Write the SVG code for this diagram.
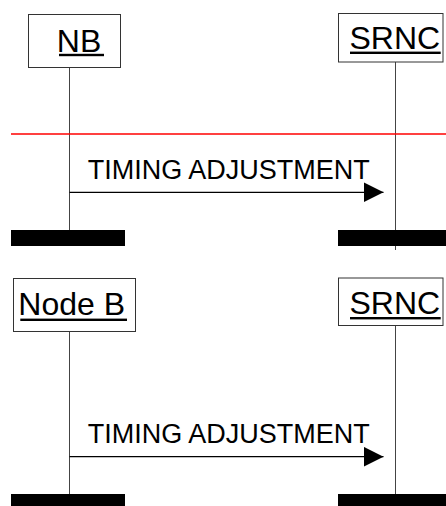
<svg xmlns="http://www.w3.org/2000/svg" width="446" height="506" viewBox="0 0 446 506">
<style>
.box{fill:#fff;stroke:#333;stroke-width:1}
.life{stroke:#444;stroke-width:1;fill:none}
.name{font-family:"Liberation Sans",Arial,sans-serif;font-size:32px;fill:#000}
.ul{fill:#000}
.msg{font-family:"Liberation Sans",Arial,sans-serif;font-size:27px;fill:#000}
.msgline{stroke:#000;stroke-width:1.3;fill:none}
.bar{fill:#000}
</style>
<defs>
<marker id="arr" markerUnits="userSpaceOnUse" markerWidth="22" markerHeight="22" refX="20" refY="10" orient="auto">
<path d="M0,0 L20,10 L0,20 Z" fill="#000"/>
</marker>
</defs>
<rect width="446" height="506" fill="#fff"/>
<g id="connectors">
<line class="life" x1="69.5" y1="67.5" x2="69.5" y2="230"/>
<line class="life" x1="395.5" y1="62" x2="395.5" y2="250"/>
<line x1="11" y1="134" x2="446" y2="134" stroke="#f00" stroke-width="1.4"/>
<line class="msgline" x1="69.5" y1="192.3" x2="383.5" y2="192.3" marker-end="url(#arr)"/>
<line class="life" x1="69.5" y1="331.5" x2="69.5" y2="494"/>
<line class="life" x1="395.5" y1="325.5" x2="395.5" y2="494"/>
<line class="msgline" x1="69.5" y1="456.7" x2="383.5" y2="456.7" marker-end="url(#arr)"/>
</g>
<g id="nb1">
<rect class="box" x="28.5" y="14.5" width="92" height="53"/>
<text class="name" x="56.8" y="51.5">NB</text>
<rect class="ul" x="59" y="53.8" width="45" height="2.4"/>
</g>
<g id="srnc1">
<rect class="box" x="338.5" y="13.5" width="104.5" height="48.5"/>
<text class="name" x="349.5" y="49.3">SRNC</text>
<rect class="ul" x="350" y="51.6" width="90.7" height="2.4"/>
</g>
<g id="msg1">
<text class="msg" x="87.7" y="179">TIMING ADJUSTMENT</text>
</g>
<g id="bars1">
<rect class="bar" x="11" y="230" width="114" height="16"/>
<rect class="bar" x="338" y="230" width="108" height="16"/>
</g>
<g id="nodeb2">
<rect class="box" x="13.5" y="278.5" width="122" height="53"/>
<text class="name" x="18.3" y="315">Node B</text>
<rect class="ul" x="20.3" y="318.6" width="106.7" height="2.4"/>
</g>
<g id="srnc2">
<rect class="box" x="338.5" y="278" width="104.5" height="47.5"/>
<text class="name" x="349.5" y="314">SRNC</text>
<rect class="ul" x="350" y="317" width="90.7" height="2.4"/>
</g>
<g id="msg2">
<text class="msg" x="87.7" y="443.3">TIMING ADJUSTMENT</text>
</g>
<g id="bars2">
<rect class="bar" x="11" y="494" width="114" height="12"/>
<rect class="bar" x="338" y="494" width="108" height="12"/>
</g>
</svg>
